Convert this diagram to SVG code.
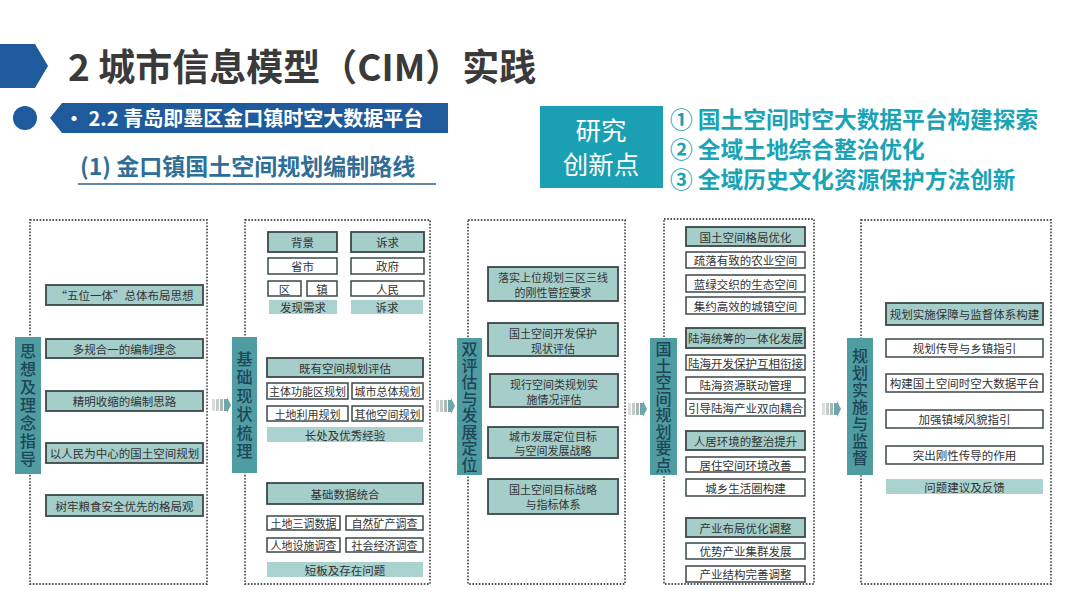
<svg xmlns="http://www.w3.org/2000/svg" width="1080" height="608" viewBox="0 0 1080 608">
<style>
text{font-family:"Noto Sans CJK SC","Noto Sans",sans-serif}
.dot{fill:none;stroke:#555;stroke-width:1.8;stroke-dasharray:1.6 1.6}
.lab{fill:#4f9ca3}
.lt{font-size:16px;fill:#1d4656;text-anchor:middle;font-weight:500;writing-mode:vertical-rl;text-orientation:upright}
.tb{fill:#a5cecb;stroke:#3c4848;stroke-width:1.8}
.wb{fill:#fff;stroke:#3c4848;stroke-width:1.5}
.pl{fill:#aad2cf}
.t{font-size:11.5px;fill:#333;text-anchor:middle;dominant-baseline:central}
.s{font-size:11px}
.inn{font-size:22.7px;font-weight:bold;fill:#1aa3b5}
</style>
<defs>
<g id="arr">
<rect x="0" y="2" width="3" height="12" fill="#dcdcdc"/>
<rect x="4" y="2" width="3" height="12" fill="#c4c9c9"/>
<rect x="8" y="2" width="3" height="12" fill="#aab8b8"/>
<polygon points="12,2 15,2 15,0 19,8 15,16 15,14 12,14" fill="#6fa6aa"/>
</g>
</defs>
<rect width="1080" height="608" fill="#fff"/>
<g id="header">
<polygon points="0,44 35,44 48,66 35,88 0,88" fill="#1e5a9c"/>
<text x="68" y="81" font-size="37" font-weight="bold" fill="#3a3a3a">2 城市信息模型（CIM）实践</text>
<circle cx="25" cy="118" r="12" fill="#1e5a9c"/>
<polygon points="62,103 448,103 448,133 62,133 50,118" fill="#1e5a9c"/>
<text x="64" y="125.5" font-size="20" font-weight="bold" fill="#fff">•  2.2 青岛即墨区金口镇时空大数据平台</text>
<text x="80" y="175" font-size="23" font-weight="bold" fill="#2e6e97">(1) 金口镇国土空间规划编制路线</text>
<line x1="78" y1="184" x2="436" y2="184" stroke="#2e5f8e" stroke-width="1.5"/>
</g>
<g id="innovation">
<rect x="540" y="106" width="123" height="82" fill="#1aa0b2"/>
<text x="601" y="140" font-size="25.5" fill="#fff" text-anchor="middle">研究</text>
<text x="601" y="174" font-size="25.5" fill="#fff" text-anchor="middle">创新点</text>
<text class="inn" x="670" y="128">① 国土空间时空大数据平台构建探索</text>
<text class="inn" x="670" y="158">② 全域土地综合整治优化</text>
<text class="inn" x="670" y="188">③ 全域历史文化资源保护方法创新</text>
</g>
<g id="connectors">
<use href="#arr" x="212" y="397"/>
<use href="#arr" x="436" y="398"/>
<use href="#arr" x="628" y="401"/>
<use href="#arr" x="822" y="401"/>
</g>
<g id="col1">
<rect class="dot" x="30" y="220" width="177" height="364"/>
<rect class="lab" x="15" y="337" width="26" height="137"/>
<text class="lt" x="28" y="406" letter-spacing="2">思想及理念指导</text>
<rect class="tb" x="46" y="285" width="157" height="20"/><text class="t" x="124.5" y="295">“五位一体”总体布局思想</text>
<rect class="tb" x="46" y="339" width="157" height="19"/><text class="t" x="124.5" y="348.5">多规合一的编制理念</text>
<rect class="tb" x="46" y="391" width="157" height="20"/><text class="t" x="124.5" y="401">精明收缩的编制思路</text>
<rect class="tb" x="46" y="443" width="157" height="20"/><text class="t" x="124.5" y="453">以人民为中心的国土空间规划</text>
<rect class="tb" x="46" y="495" width="157" height="21"/><text class="t" x="124.5" y="505.5">树牢粮食安全优先的格局观</text>
</g>
<g id="col2">
<rect class="dot" x="245" y="220" width="185" height="364"/>
<rect class="lab" x="232" y="337" width="25" height="136"/>
<text class="lt" x="244.5" y="406" letter-spacing="2.5">基础现状梳理</text>
<rect class="tb" x="268" y="232" width="69" height="20"/><text class="t" x="302.5" y="242">背景</text>
<rect class="tb" x="351" y="232" width="73" height="20"/><text class="t" x="387.5" y="242">诉求</text>
<rect class="wb" x="268" y="258" width="69" height="16"/><text class="t" x="302.5" y="266">省市</text>
<rect class="wb" x="351" y="258" width="73" height="16"/><text class="t" x="387.5" y="266">政府</text>
<rect class="wb" x="268" y="281" width="33" height="15"/><text class="t" x="284.5" y="288.5">区</text>
<rect class="wb" x="307" y="281" width="30" height="15"/><text class="t" x="322" y="288.5">镇</text>
<rect class="wb" x="351" y="281" width="73" height="15"/><text class="t" x="387.5" y="288.5">人民</text>
<rect class="pl" x="269" y="300" width="68" height="14"/><text class="t" x="303" y="307">发现需求</text>
<rect class="pl" x="351" y="300" width="72" height="14"/><text class="t" x="387" y="307">诉求</text>
<rect class="tb" x="267" y="358" width="156" height="19"/><text class="t" x="345" y="367.5">既有空间规划评估</text>
<rect class="wb" x="267" y="383" width="81" height="16"/><text class="t s" x="307.5" y="391">主体功能区规划</text>
<rect class="wb" x="352" y="383" width="71" height="16"/><text class="t s" x="387.5" y="391">城市总体规划</text>
<rect class="wb" x="267" y="406" width="81" height="15"/><text class="t s" x="307.5" y="413.5">土地利用规划</text>
<rect class="wb" x="352" y="406" width="71" height="15"/><text class="t s" x="387.5" y="413.5">其他空间规划</text>
<rect class="pl" x="267" y="427" width="156" height="15"/><text class="t" x="345" y="434.5">长处及优秀经验</text>
<rect class="tb" x="267" y="483" width="156" height="21"/><text class="t" x="345" y="493.5">基础数据统合</text>
<rect class="wb" x="267" y="516" width="73" height="14"/><text class="t s" x="303.5" y="523">土地三调数据</text>
<rect class="wb" x="346" y="516" width="77" height="14"/><text class="t s" x="384.5" y="523">自然矿产调查</text>
<rect class="wb" x="267" y="538" width="73" height="14"/><text class="t s" x="303.5" y="545">人地设施调查</text>
<rect class="wb" x="346" y="538" width="77" height="14"/><text class="t s" x="384.5" y="545">社会经济调查</text>
<rect class="pl" x="267" y="562" width="156" height="15"/><text class="t" x="345" y="569.5">短板及存在问题</text>
</g>
<g id="col3">
<rect class="dot" x="468" y="220" width="157" height="364"/>
<rect class="lab" x="457" y="338" width="25" height="137"/>
<text class="lt" x="469.5" y="407" font-size="15.5" letter-spacing="0.5">双评估与发展定位</text>
<rect class="tb" x="488" y="267" width="130" height="34"/><text class="t s" x="553" y="277">落实上位规划三区三线</text><text class="t s" x="553" y="292">的刚性管控要求</text>
<rect class="tb" x="488" y="323" width="130" height="33"/><text class="t s" x="553" y="332.5">国土空间开发保护</text><text class="t s" x="553" y="347.5">现状评估</text>
<rect class="tb" x="490" y="374" width="128" height="33"/><text class="t s" x="554" y="383.5">现行空间类规划实</text><text class="t s" x="554" y="398.5">施情况评估</text>
<rect class="tb" x="488" y="427" width="130" height="31"/><text class="t s" x="553" y="435.5">城市发展定位目标</text><text class="t s" x="553" y="450">与空间发展战略</text>
<rect class="tb" x="488" y="479" width="130" height="35"/><text class="t s" x="553" y="489">国土空间目标战略</text><text class="t s" x="553" y="504">与指标体系</text>
</g>
<g id="col4">
<rect class="dot" x="664" y="219" width="150" height="365"/>
<rect class="lab" x="650" y="338" width="27" height="137"/>
<text class="lt" x="663.5" y="407" font-size="15.5" letter-spacing="0.5">国土空间规划要点</text>
<rect class="tb" x="686" y="227" width="119" height="19"/><text class="t" x="745.5" y="236.5">国土空间格局优化</text>
<rect class="wb" x="686" y="252" width="119" height="16"/><text class="t" x="745.5" y="260">疏落有致的农业空间</text>
<rect class="wb" x="686" y="275" width="119" height="17"/><text class="t" x="745.5" y="283.5">蓝绿交织的生态空间</text>
<rect class="wb" x="686" y="297" width="119" height="17"/><text class="t" x="745.5" y="305.5">集约高效的城镇空间</text>
<rect class="tb" x="686" y="328" width="119" height="20"/><text class="t" x="745.5" y="338">陆海统筹的一体化发展</text>
<rect class="wb" x="686" y="355" width="119" height="15"/><text class="t" x="745.5" y="362.5">陆海开发保护互相衔接</text>
<rect class="wb" x="686" y="377" width="119" height="16"/><text class="t" x="745.5" y="385">陆海资源联动管理</text>
<rect class="wb" x="686" y="399" width="119" height="17"/><text class="t" x="745.5" y="407.5">引导陆海产业双向耦合</text>
<rect class="tb" x="686" y="431" width="119" height="19"/><text class="t" x="745.5" y="440.5">人居环境的整治提升</text>
<rect class="wb" x="686" y="457" width="119" height="15"/><text class="t" x="745.5" y="464.5">居住空间环境改善</text>
<rect class="wb" x="686" y="479" width="119" height="17"/><text class="t" x="745.5" y="487.5">城乡生活圈构建</text>
<rect class="tb" x="686" y="518" width="119" height="19"/><text class="t" x="745.5" y="527.5">产业布局优化调整</text>
<rect class="wb" x="686" y="543" width="119" height="16"/><text class="t" x="745.5" y="551">优势产业集群发展</text>
<rect class="wb" x="686" y="566" width="119" height="16"/><text class="t" x="745.5" y="574">产业结构完善调整</text>
</g>
<g id="col5">
<rect class="dot" x="861" y="220" width="190" height="364"/>
<rect class="lab" x="847" y="338" width="26" height="137"/>
<text class="lt" x="860" y="407" letter-spacing="1">规划实施与监督</text>
<rect class="tb" x="886" y="303" width="157" height="22"/><text class="t" x="964.5" y="314">规划实施保障与监督体系构建</text>
<rect class="wb" x="886" y="339" width="157" height="18"/><text class="t" x="964.5" y="348">规划传导与乡镇指引</text>
<rect class="wb" x="886" y="374" width="157" height="18"/><text class="t" x="964.5" y="383">构建国土空间时空大数据平台</text>
<rect class="wb" x="886" y="410" width="157" height="18"/><text class="t" x="964.5" y="419">加强镇域风貌指引</text>
<rect class="wb" x="886" y="446" width="157" height="18"/><text class="t" x="964.5" y="455">突出刚性传导的作用</text>
<rect class="pl" x="886" y="479" width="157" height="15"/><text class="t" x="964.5" y="486.5">问题建议及反馈</text>
</g>
</svg>
